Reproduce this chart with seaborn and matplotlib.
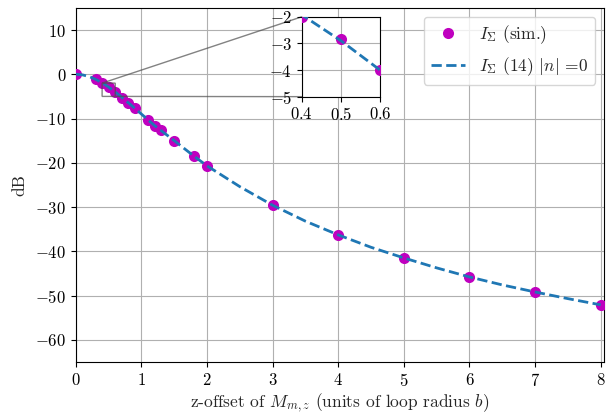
import numpy as np
import pandas as pd
import matplotlib
matplotlib.use("Agg")
import matplotlib.pyplot as plt
import seaborn as sns

# Simulated intensity vs. z-offset (dB)
sim_z = [0.0, 0.3, 0.4, 0.5, 0.6, 0.7, 0.8, 0.9, 1.1, 1.2, 1.3, 1.5, 1.8, 2.0,
         3.0, 4.0, 5.0, 6.0, 7.0, 8.0]
sim_db = [0.0, -1.1, -2.0, -2.85, -4.0, -5.3, -6.5, -7.6, -10.4, -11.6, -12.7,
          -15.0, -18.5, -20.7, -29.6, -36.3, -41.5, -45.8, -49.2, -52.2]

# Model curve, eq. (14) with |n| = 0
th_z = [0.0, 0.1, 0.2, 0.3, 0.4, 0.5, 0.6, 0.7, 0.8, 0.9, 1.0, 1.2, 1.5, 1.8,
        2.0, 2.5, 3.0, 3.5, 4.0, 4.5, 5.0, 5.5, 6.0, 6.5, 7.0, 7.5, 8.0]
th_db = [0.0, -0.13, -0.51, -1.12, -1.93, -2.9, -4.0, -5.2, -6.45, -7.7, -9.0,
         -11.6, -15.0, -18.5, -20.7, -25.4, -29.6, -33.2, -36.3, -39.1, -41.5,
         -43.75, -45.8, -47.6, -49.2, -50.7, -52.1]

x_ticks = [0, 1, 2, 3, 4, 5, 6, 7, 8]
y_ticks = [-60, -50, -40, -30, -20, -10, 0, 10]
inset_x_ticks = [0.4, 0.5, 0.6]
inset_y_ticks = [-5, -4, -3, -2]

sim = pd.DataFrame({"z": sim_z, "dB": sim_db})
th = pd.DataFrame({"z": th_z, "dB": th_db})

sns.set_theme(style="ticks", rc={
    "axes.grid": True,
    "grid.color": "#b0b0b0",
    "grid.linewidth": 0.8,
    "axes.edgecolor": "black",
    "axes.linewidth": 0.8,
    "xtick.direction": "out",
    "ytick.direction": "out",
    "xtick.color": "black",
    "ytick.color": "black",
    "xtick.major.size": 3.5,
    "ytick.major.size": 3.5,
    "xtick.major.width": 0.8,
    "ytick.major.width": 0.8,
    "xtick.major.pad": 3.5,
    "ytick.major.pad": 3.5,
})
plt.rcParams["font.family"] = "serif"
plt.rcParams["font.serif"] = ["cmr10", "DejaVu Serif"]
plt.rcParams["mathtext.fontset"] = "cm"
plt.rcParams["axes.formatter.use_mathtext"] = True

FS = 12
MAGENTA = "#bf00bf"
BLUE = "#1f77b4"

fig, ax = plt.subplots(figsize=(6.07, 4.16), dpi=100)
fig.subplots_adjust(left=0.125, right=0.995, top=0.981, bottom=0.130)


def draw(a):
    a.plot(sim["z"], sim["dB"], "o", color=MAGENTA, markersize=8,
           markeredgewidth=0, label=r"$I_\Sigma$ (sim.)", zorder=3)
    sns.lineplot(data=th, x="z", y="dB", ax=a, color=BLUE, lw=2,
                 linestyle="--", label=r"$I_\Sigma$ (14) $|n|$ =0", zorder=4)


draw(ax)
ax.set_xlim(0, 8.05)
ax.set_ylim(-65, 15)
ax.set_xticks(x_ticks)
ax.set_yticks(y_ticks)
ax.tick_params(labelsize=FS)
ax.set_xlabel(r"z-offset of $M_{m,z}$ (units of loop radius $b$)",
              fontsize=12.5, labelpad=2)
ax.set_ylabel("dB", fontsize=12.5, labelpad=6)
ax.legend(loc="upper right", fontsize=12.5, framealpha=0.8)

axins = ax.inset_axes([0.428, 0.749, 0.148, 0.226])
draw(axins)
axins.set_xlim(0.4, 0.6)
axins.set_ylim(-5, -2)
axins.set_xticks(inset_x_ticks)
axins.set_yticks(inset_y_ticks)
axins.set_xlabel("")
axins.set_ylabel("")
axins.tick_params(labelsize=FS)
if axins.get_legend():
    axins.get_legend().remove()
ax.indicate_inset_zoom(axins, edgecolor="0.3", alpha=0.7)

fig.savefig("out.png", dpi=100)
